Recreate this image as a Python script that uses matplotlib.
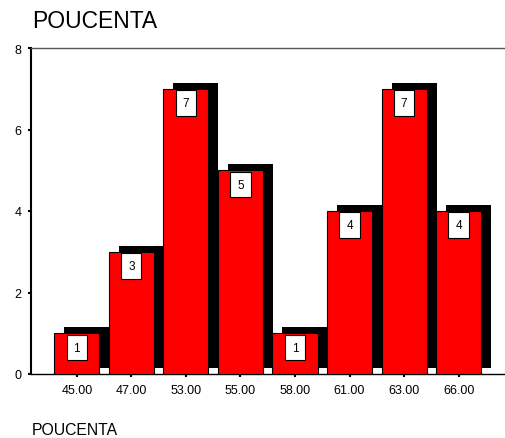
import matplotlib
matplotlib.use("Agg")
import matplotlib.pyplot as plt
import matplotlib.transforms as mtransforms

plt.rcParams['font.family'] = ['Liberation Sans', 'DejaVu Sans']

categories = ['45.00', '47.00', '53.00', '55.00', '58.00', '61.00', '63.00', '66.00']
counts = [1, 3, 7, 5, 1, 4, 7, 4]

fig = plt.figure(figsize=(5.05, 4.39), dpi=100)
ax = fig.add_axes([31 / 505, 1 - 375 / 439, 1 - 31 / 505, (375 - 49) / 439])

x = list(range(len(categories)))
width = 0.826

# shadow bars shifted right and up
shift = mtransforms.ScaledTranslation(10 / 100, 6 / 100, fig.dpi_scale_trans)
ax.bar(x, counts, width=width, color='black', edgecolor='black', linewidth=0,
       transform=ax.transData + shift, zorder=2)
ax.bar(x, counts, width=width, color='#ff0000', edgecolor='black', linewidth=0.8, zorder=3)

for xi, c in zip(x, counts):
    ax.annotate(str(c), (xi, c), xytext=(0, -6), textcoords='offset points',
                ha='center', va='top', fontsize=8.5, zorder=4,
                bbox=dict(boxstyle='square,pad=0.58', facecolor='white',
                          edgecolor='black', linewidth=0.8))

ax.set_xlim(-0.84, 7.85)
ax.set_ylim(0, 8)
ax.set_yticks([0, 2, 4, 6, 8])
ax.set_xticks(x)
ax.set_xticklabels(categories)
ax.tick_params(axis='both', labelsize=9, length=2, width=1.5, pad=5)

ax.spines['right'].set_visible(False)
ax.spines['top'].set_color('#555555')
ax.spines['top'].set_linewidth(1)
ax.spines['left'].set_linewidth(1.5)
ax.spines['bottom'].set_linewidth(1)

fig.text(32 / 505, 1 - 28 / 439, 'POUCENTA', fontsize=16.5, va='baseline', ha='left')
fig.text(32 / 505, 1 - 435 / 439, 'POUCENTA', fontsize=11.3, va='baseline', ha='left')

fig.savefig('out.png', dpi=100)
